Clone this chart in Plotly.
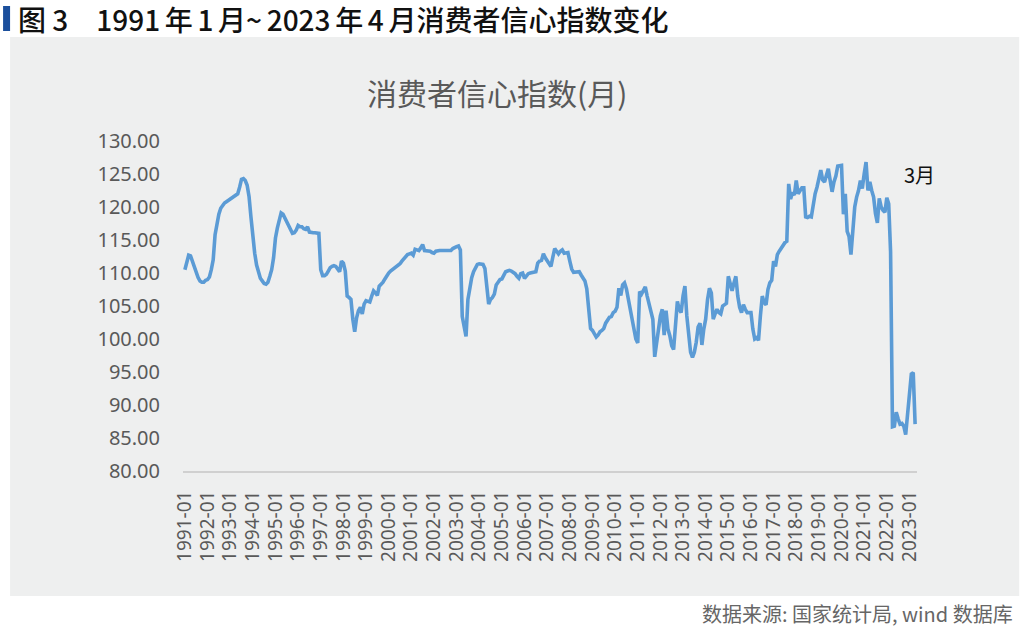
import plotly.graph_objects as go

# ---- data (monthly consumer confidence index) ----
y1991 = [110.5, 111.8, 112.7, 112.6, 111.8, 110.8, 110.0, 109.3, 108.8, 108.6, 108.6, 108.9]
y1992 = [109.0, 109.4, 110.5, 112.0, 115.8, 117.8, 118.9, 119.8, 120.3, 120.6, 120.8, 121.0]
y1993 = [121.1, 121.4, 121.5, 121.7, 122.0, 123.0, 124.2, 124.3, 124.0, 123.3, 121.6, 118.5]
y1994 = [115.0, 113.0, 111.2, 110.0, 109.2, 108.8, 108.4, 108.3, 108.6, 109.5, 110.5, 112.3]
y1995 = [115.3, 116.8, 118.2, 119.1, 118.9, 118.3, 117.7, 117.2, 116.5, 116.0, 116.1, 116.5]
y1996 = [117.2, 117.0, 117.0, 116.7, 116.6, 117.0, 116.2, 116.1, 116.1, 116.1, 116.1, 116.0]
y1997 = [110.5, 109.6, 109.6, 109.8, 110.3, 110.8, 111.0, 111.1, 111.0, 110.6, 110.2, 111.8]
y1998 = [111.5, 110.3, 106.5, 106.3, 106.0, 103.0, 101.1, 103.2, 104.3, 104.8, 103.8, 105.3]
y1999 = [105.8, 105.7, 105.6, 106.5, 107.3, 107.0, 106.6, 108.0, 108.3, 108.6, 109.1, 109.7]
y2000 = [110.0, 110.3, 110.5, 110.8, 111.0, 111.2, 111.4, 111.8, 112.2, 112.5, 112.8, 112.9]
y2001 = [113.0, 112.7, 113.6, 113.5, 113.4, 113.8, 114.3, 113.4, 113.4, 113.4, 113.3, 113.1]
y2002 = [113.0, 113.3, 113.4, 113.4, 113.4, 113.4, 113.4, 113.4, 113.4, 113.4, 113.7, 113.9]
y2003 = [114.0, 114.1, 113.5, 103.4, 101.8, 100.4, 106.0, 107.9, 109.3, 110.2, 110.9, 111.3]
y2004 = [111.4, 111.4, 111.3, 110.7, 108.0, 105.3, 106.0, 106.3, 106.8, 108.2, 108.6, 109.0]
y2005 = [109.1, 109.8, 110.2, 110.3, 110.4, 110.3, 110.1, 109.9, 109.5, 109.2, 109.9, 110.0]
y2006 = [109.2, 109.5, 109.9, 110.0, 110.1, 110.2, 110.2, 111.5, 111.8, 111.9, 112.9, 112.3]
y2007 = [111.8, 111.3, 111.0, 112.4, 113.7, 113.3, 112.9, 113.3, 113.5, 113.0, 113.0, 113.1]
y2008 = [111.8, 110.6, 110.1, 110.1, 110.1, 110.2, 109.7, 109.2, 108.8, 107.6, 105.0, 101.6]
y2009 = [101.3, 100.8, 100.3, 100.6, 101.1, 101.3, 101.6, 102.4, 102.8, 103.3, 103.4, 104.0]
y2010 = [104.2, 104.8, 107.7, 106.6, 108.2, 108.5, 107.6, 106.0, 104.5, 103.0, 101.5, 100.0]
y2011 = [99.4, 107.2, 106.8, 107.5, 107.9, 106.5, 105.3, 104.6, 103.0, 97.3, 99.5, 101.4]
y2012 = [103.5, 104.5, 100.6, 104.3, 101.5, 100.5, 99.0, 98.4, 102.5, 105.7, 104.5, 104.0]
y2013 = [106.5, 108.0, 103.5, 100.4, 98.0, 97.2, 98.0, 99.5, 101.8, 102.4, 99.1, 101.5]
y2014 = [103.0, 106.0, 107.7, 107.0, 103.0, 103.8, 104.5, 104.0, 103.8, 105.0, 105.2, 105.4]
y2015 = [109.5, 108.2, 107.3, 108.5, 109.5, 106.5, 104.8, 104.0, 105.2, 104.5, 104.0, 104.0]
y2016 = [104.0, 101.5, 100.0, 100.2, 99.8, 103.5, 106.5, 105.5, 105.2, 107.5, 108.5, 108.9]
y2017 = [111.8, 111.0, 112.8, 113.3, 113.8, 114.2, 114.6, 114.8, 123.5, 121.2, 122.2, 121.8]
y2018 = [124.0, 122.0, 122.5, 122.9, 122.9, 118.5, 118.4, 118.6, 118.5, 120.8, 122.0, 123.0]
y2019 = [124.5, 125.6, 124.1, 123.8, 124.8, 125.8, 124.0, 122.3, 123.8, 124.7, 126.2, 126.3]
y2020 = [126.3, 118.9, 122.0, 116.3, 115.5, 112.8, 117.5, 120.0, 121.5, 122.5, 124.0, 122.8]
y2021 = [125.0, 126.8, 122.5, 123.8, 122.5, 121.5, 119.0, 117.6, 121.3, 120.0, 119.5, 119.2]
y2022 = [121.4, 120.5, 113.2, 86.7, 86.8, 88.9, 87.9, 87.1, 87.2, 86.8, 85.5, 88.3]
y2023 = [91.2, 94.7, 94.9, 87.1]

yearly = [y1991, y1992, y1993, y1994, y1995, y1996, y1997, y1998, y1999, y2000,
          y2001, y2002, y2003, y2004, y2005, y2006, y2007, y2008, y2009, y2010,
          y2011, y2012, y2013, y2014, y2015, y2016, y2017, y2018, y2019, y2020,
          y2021, y2022, y2023]
first_year = 1991

values = []
months = []
for i, arr in enumerate(yearly):
    for j, v in enumerate(arr):
        values.append(v)
        months.append(f"{first_year + i}-{j + 1:02d}")

tick_labels = [m for m in months if m.endswith("-01")]
tick_vals = [months.index(t) for t in tick_labels]
y_ticks = [80, 85, 90, 95, 100, 105, 110, 115, 120, 125, 130]

title_text = "图 3　1991\u2006年\u20061\u2006月~\u20062023\u2006年\u20064\u2006月消费者信心指数变化"
chart_title = "消费者信心指数(月)"
source_text = "数据来源: 国家统计局, wind 数据库"
note_text = "3月"

# ---- layout geometry (pixels) ----
W_FIG, H_FIG = 1024, 631
L, R = 182.9, 916.8
T, B = 141, 471
PW, PH = R - L, B - T


def px(x):
    return (x - L) / PW


def py(y):
    return (B - y) / PH


CJK = "Noto Sans CJK SC"
GREY = "#595959"

fig = go.Figure()
fig.add_trace(go.Scatter(
    x=list(range(len(values))), y=values, mode="lines",
    line=dict(color="#5b9bd5", width=3.6),
    hoverinfo="skip", showlegend=False,
))

shapes = [
    # grey panel
    dict(type="rect", xref="paper", yref="paper", x0=px(10), x1=px(1019), y0=py(596), y1=py(37),
         fillcolor="#eeefef", line=dict(width=0), layer="below"),
    # blue title bar
    dict(type="rect", xref="paper", yref="paper", x0=px(3), x1=px(10), y0=py(31), y1=py(6),
         fillcolor="#1b4f9c", line=dict(width=0), layer="below"),
]

annotations = [
    dict(text=title_text, xref="paper", yref="paper", x=px(16), y=py(19), xanchor="left", yanchor="middle",
         showarrow=False, font=dict(family=CJK, size=28, color="#111111", weight=500)),
    dict(text=chart_title, xref="paper", yref="paper", x=px(497), y=py(92), xanchor="center", yanchor="middle",
         showarrow=False, font=dict(family=CJK, size=30, color=GREY)),
    dict(text=note_text, xref="paper", yref="paper", x=px(919), y=py(174), xanchor="center", yanchor="middle",
         showarrow=False, font=dict(family=CJK, size=20, color="#111111")),
    dict(text=source_text, xref="paper", yref="paper", x=px(1015), y=py(613), xanchor="right", yanchor="middle",
         showarrow=False, font=dict(family=CJK, size=20, color="#666666")),
]

fig.update_layout(
    width=W_FIG, height=H_FIG,
    margin=dict(l=L, r=W_FIG - R, t=T, b=H_FIG - B, autoexpand=False),
    paper_bgcolor="white", plot_bgcolor="rgba(0,0,0,0)",
    shapes=shapes, annotations=annotations,
    xaxis=dict(range=[-1, len(values)], tickmode="array", tickvals=tick_vals, ticktext=tick_labels,
               tickangle=-90, showgrid=False, zeroline=False, showline=True, linecolor="#d0d0d0",
               linewidth=2, ticks="", ticklabelstandoff=10,
               tickfont=dict(family="Noto Sans", size=19, color=GREY)),
    yaxis=dict(range=[80, 130], tickmode="array", tickvals=y_ticks,
               ticktext=[f"{v:.2f}" for v in y_ticks], showgrid=False, zeroline=False,
               showline=False, ticks="", ticklabelstandoff=22,
               tickfont=dict(family="Noto Sans", size=20, color=GREY)),
)

fig.write_html("out.html")
